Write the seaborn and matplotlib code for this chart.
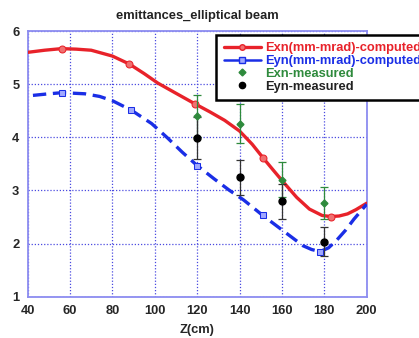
import matplotlib
matplotlib.use("Agg")
import matplotlib.pyplot as plt
import seaborn as sns
import numpy as np
import pandas as pd
from matplotlib.lines import Line2D

# ---- data ----
z_exn = [40, 48, 56, 63, 70, 80, 88, 95, 101.5, 110, 119, 126, 133, 140, 146, 151,
         156, 160, 167, 173, 179, 183, 187, 191, 195, 200]
exn_comp = [5.60, 5.64, 5.67, 5.66, 5.64, 5.53, 5.38, 5.20, 5.02, 4.83, 4.63, 4.48,
            4.32, 4.12, 3.87, 3.62, 3.38, 3.19, 2.87, 2.65, 2.53, 2.51, 2.52, 2.56,
            2.64, 2.76]
exn_marks = [2, 6, 10, 15, 21]

z_eyn = [42.5, 50, 56, 62, 67, 74, 80, 89, 98.5, 106, 113, 120, 128, 135, 142, 151,
         156, 160, 165, 170, 174, 178, 182, 186, 190, 194, 200]
eyn_comp = [4.79, 4.82, 4.84, 4.83, 4.82, 4.77, 4.69, 4.51, 4.26, 3.99, 3.72, 3.47,
            3.22, 3.01, 2.82, 2.53, 2.38, 2.26, 2.11, 1.96, 1.89, 1.85, 1.92, 2.07,
            2.25, 2.46, 2.74]
eyn_marks = [2, 7, 11, 15, 21]

z_meas = [120, 140, 160, 180]
exn_meas = [4.40, 4.26, 3.20, 2.76]
exn_err = [0.40, 0.36, 0.33, 0.30]
eyn_meas = [3.99, 3.25, 2.80, 2.04]
eyn_err = [0.40, 0.33, 0.33, 0.27]

labels = ["Exn(mm-mrad)-computed", "Eyn(mm-mrad)-computed", "Exn-measured", "Eyn-measured"]
xticks = [40, 60, 80, 100, 120, 140, 160, 180, 200]
yticks = [1, 2, 3, 4, 5, 6]

RED = "#e8222a"
BLUE = "#1a2ee6"
GREEN = "#2e8a3c"
BLACK = "#000000"

sns.set_style("white")
plt.rcParams["font.family"] = ["Liberation Sans", "DejaVu Sans"]
plt.rcParams["font.weight"] = "bold"

fig = plt.figure(figsize=(4.19, 3.38), dpi=100)
ax = fig.add_axes([0.066, 0.122, 0.809, 0.786])

df_x = pd.DataFrame({"z": z_exn, "v": exn_comp})
df_y = pd.DataFrame({"z": z_eyn, "v": eyn_comp})

sns.lineplot(data=df_x, x="z", y="v", ax=ax, color=RED, linewidth=2.4,
             marker="o", markersize=5, markerfacecolor="#f07070",
             markeredgecolor=RED, markevery=exn_marks, sort=False, zorder=4)
sns.lineplot(data=df_y, x="z", y="v", ax=ax, color=BLUE, linewidth=2.4,
             linestyle=(0, (4, 2)), marker="s", markersize=4.5,
             markerfacecolor="#a0a8ff", markeredgecolor=BLUE,
             markevery=eyn_marks, sort=False, zorder=4)

ax.errorbar(z_meas, exn_meas, yerr=exn_err, fmt="D", color=GREEN, ms=3.5,
            ecolor=GREEN, elinewidth=0.9, capsize=3, capthick=0.9, zorder=5)
ax.errorbar(z_meas, eyn_meas, yerr=eyn_err, fmt="o", color=BLACK, ms=5,
            ecolor="#333333", elinewidth=0.9, capsize=3, capthick=0.9, zorder=5)

ax.set_xlim(40, 200)
ax.set_ylim(1, 6)
ax.set_xticks(xticks)
ax.set_yticks(yticks)
ax.tick_params(length=0, labelsize=9.3)
ax.tick_params(axis="x", pad=6)
ax.tick_params(axis="y", pad=6)
for lab in ax.get_xticklabels() + ax.get_yticklabels():
    lab.set_fontweight("bold")
ax.grid(True, color="#4a4ae0", linestyle=(0, (1, 1.5)), linewidth=0.9)
for sp in ax.spines.values():
    sp.set_color("#8c8cf0")
    sp.set_linewidth(1.3)

ax.set_xlabel("Z(cm)", fontsize=9.3, fontweight="bold", labelpad=5)
ax.set_ylabel("")
ax.set_title("emittances_elliptical beam", fontsize=9.3, fontweight="bold",
             color="#222222", pad=9)

handles = [
    Line2D([], [], color=RED, lw=2.4, marker="o", ms=4, markerfacecolor="#f07070"),
    Line2D([], [], color=BLUE, lw=1.8, marker="s", ms=4, markerfacecolor="#a0a8ff"),
    Line2D([], [], color=GREEN, lw=0, marker="D", ms=3.5),
    Line2D([], [], color=BLACK, lw=0, marker="o", ms=4.5),
]
leg = ax.legend(handles, labels, loc="upper left", bbox_to_anchor=(0.557, 0.985),
                prop={"size": 9.3, "weight": "bold"}, frameon=True, fancybox=False,
                framealpha=1, edgecolor="black", handlelength=2.9,
                handletextpad=0.35, labelspacing=0.06, borderpad=0.55,
                borderaxespad=0)
leg.get_frame().set_linewidth(1.8)
for txt, c in zip(leg.get_texts(), [RED, BLUE, GREEN, "#222222"]):
    txt.set_color(c)
leg.set_zorder(10)

fig.savefig("out.png", dpi=100)
